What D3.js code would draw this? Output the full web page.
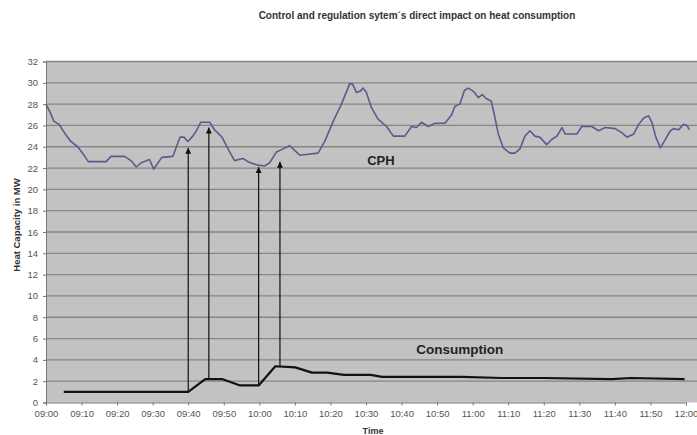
<!DOCTYPE html>
<html>
<head>
<meta charset="utf-8">
<script src="https://cdn.jsdelivr.net/npm/d3@7"></script>
<style>
  body { margin: 0; background: #fff; }
  svg { display: block; font-family: "Liberation Sans", Arial, sans-serif; }
</style>
</head>
<body>
<div id="chart"></div>
<script>
// minutes after 09:00
var cphTime = [0, 1.2, 2.2, 3.7, 5.2, 7.0, 8.9, 10.3, 11.9, 16.9, 18.3, 22.1, 23.9, 25.4, 26.8, 29.1, 30.3, 31.3, 32.6, 35.7,
  36.6, 37.7, 38.8, 39.9, 41.3, 42.3, 43.5, 46.0, 47.4, 49.5, 51.2, 53.0, 55.4, 56.8, 59.2, 61.5, 62.9, 64.8, 66.7, 68.5,
  69.5, 71.4, 76.5, 78.4, 80.8, 83.1, 85.4, 86.2, 87.3, 88.3, 89.2, 90.1, 91.5, 93.4, 95.8, 97.7, 100.9, 102.8, 104.2, 105.6,
  107.5, 109.4, 112.2, 114.1, 115.0, 116.4, 117.7, 118.8, 120.2, 121.6, 122.7, 123.9, 125.2, 126.1, 127.2, 128.6, 130.5, 131.9, 133.3, 134.7,
  136.1, 137.5, 138.9, 140.8, 142.3, 143.7, 145.1, 146.0, 149.3, 150.7, 153.5, 155.4, 157.3, 160.1, 162.0, 163.4, 165.3, 166.7, 168.1, 169.5,
  170.4, 171.5, 172.8, 174.2, 175.6, 176.5, 177.9, 179.3, 180.3, 180.9];
var cphValue = [28.0, 27.2, 26.4, 26.1, 25.3, 24.5, 24.0, 23.4, 22.6, 22.6, 23.1, 23.1, 22.7, 22.1, 22.5, 22.8, 21.9, 22.4, 23.0, 23.1,
  23.9, 24.9, 24.9, 24.5, 25.0, 25.5, 26.3, 26.3, 25.6, 24.9, 23.8, 22.7, 22.9, 22.6, 22.3, 22.2, 22.5, 23.5, 23.8, 24.1,
  23.8, 23.2, 23.4, 24.5, 26.4, 28.0, 29.9, 29.9, 29.1, 29.2, 29.5, 29.1, 27.7, 26.6, 25.9, 25.0, 25.0, 25.9, 25.8, 26.3,
  25.9, 26.2, 26.2, 27.0, 27.8, 28.0, 29.3, 29.5, 29.2, 28.6, 28.9, 28.5, 28.3, 27.0, 25.2, 23.9, 23.4, 23.4, 23.8, 25.0,
  25.5, 25.0, 24.9, 24.2, 24.7, 25.0, 25.8, 25.2, 25.2, 25.9, 25.9, 25.5, 25.8, 25.7, 25.3, 24.9, 25.2, 26.1, 26.7, 26.9,
  26.3, 24.9, 23.9, 24.7, 25.5, 25.7, 25.6, 26.1, 26.0, 25.6];

var consTime = [5, 40, 44.8, 49.5, 54.6, 59.8, 64.5, 70.1, 74.8, 79.1, 83.8, 91.3, 94.5, 117, 128.3, 140, 159, 164.6, 179.6];
var consValue = [1.0, 1.0, 2.2, 2.2, 1.6, 1.6, 3.4, 3.3, 2.8, 2.8, 2.6, 2.6, 2.4, 2.4, 2.3, 2.3, 2.2, 2.3, 2.2];

var arrowTime = [40, 45.8, 59.8, 65.8];
var arrowFrom = [1.0, 2.2, 1.6, 3.3];
var arrowTo = [23.9, 25.8, 22.1, 22.6];

var xTickLabels = ["09:00", "09:10", "09:20", "09:30", "09:40", "09:50", "10:00", "10:10", "10:20", "10:30",
  "10:40", "10:50", "11:00", "11:10", "11:20", "11:30", "11:40", "11:50", "12:00"];
var yTicks = d3.range(0, 33, 2);

var W = 697, H = 435;
var svg = d3.select("#chart").append("svg")
  .attr("width", W)
  .attr("height", H);

var x = d3.scaleLinear().domain([0, 180]).range([46, 686]);
var y = d3.scaleLinear().domain([0, 32]).range([402.5, 61.5]);

// plot area
svg.append("rect")
  .attr("x", x(0)).attr("y", y(32))
  .attr("width", 697 - x(0)).attr("height", y(0) - y(32))
  .attr("fill", "#c2c2c2");

svg.append("g").selectAll("line")
  .data(yTicks.filter(function(d){ return d > 0; }))
  .enter().append("line")
    .attr("x1", x(0)).attr("x2", 697)
    .attr("y1", function(d){ return y(d); })
    .attr("y2", function(d){ return y(d); })
    .attr("stroke", "#858585")
    .attr("stroke-width", 1.3);

// axes
var xAxis = svg.append("g")
  .attr("transform", "translate(0," + y(0) + ")")
  .call(d3.axisBottom(x)
    .tickValues(d3.range(0, 181, 10))
    .tickFormat(function(d, i){ return xTickLabels[i]; })
    .tickSizeOuter(0).tickSize(3).tickPadding(5));
xAxis.select(".domain").attr("stroke", "#777");
xAxis.selectAll(".tick line").attr("stroke", "#777");
xAxis.selectAll("text").attr("fill", "#555").style("font-size", "9.5px");

var yAxis = svg.append("g")
  .attr("transform", "translate(" + x(0) + ",0)")
  .call(d3.axisLeft(y)
    .tickValues(yTicks)
    .tickSizeOuter(0).tickSize(3).tickPadding(5));
yAxis.select(".domain").attr("stroke", "#777");
yAxis.selectAll(".tick line").attr("stroke", "#777");
yAxis.selectAll("text").attr("fill", "#555").style("font-size", "9.5px");

// lines
var line = d3.line()
  .x(function(d){ return x(d[0]); })
  .y(function(d){ return y(d[1]); });

svg.append("path")
  .datum(d3.zip(cphTime, cphValue))
  .attr("d", line)
  .attr("fill", "none")
  .attr("stroke", "#5b5b8e")
  .attr("stroke-width", 1.6)
  .attr("stroke-linejoin", "round");

svg.append("path")
  .datum(d3.zip(consTime, consValue))
  .attr("d", line)
  .attr("fill", "none")
  .attr("stroke", "#111")
  .attr("stroke-width", 2.2)
  .attr("stroke-linejoin", "round");

// arrows
svg.append("defs").append("marker")
  .attr("id", "head")
  .attr("viewBox", "0 0 10 10")
  .attr("refX", 10).attr("refY", 5)
  .attr("markerWidth", 6).attr("markerHeight", 8)
  .attr("markerUnits", "userSpaceOnUse")
  .attr("orient", "auto")
  .append("path")
    .attr("d", "M0,0L10,5L0,10Z")
    .attr("fill", "#111");

svg.append("g").selectAll("line")
  .data(arrowTime)
  .enter().append("line")
    .attr("x1", function(d){ return x(d); })
    .attr("x2", function(d){ return x(d); })
    .attr("y1", function(d, i){ return y(arrowFrom[i]); })
    .attr("y2", function(d, i){ return y(arrowTo[i]); })
    .attr("stroke", "#111")
    .attr("stroke-width", 1.2)
    .attr("marker-end", "url(#head)");

// labels
svg.append("text")
  .attr("x", 417).attr("y", 19)
  .attr("text-anchor", "middle")
  .style("font-size", "10px").style("font-weight", "bold")
  .attr("fill", "#333")
  .text("Control and regulation sytem\u00b4s direct  impact on heat consumption");

svg.append("text")
  .attr("x", x(94.2)).attr("y", y(22.8) + 5)
  .attr("text-anchor", "middle")
  .style("font-size", "13px").style("font-weight", "bold")
  .attr("fill", "#222")
  .text("CPH");

svg.append("text")
  .attr("x", x(116.4)).attr("y", y(5.0) + 5)
  .attr("text-anchor", "middle")
  .style("font-size", "13.5px").style("font-weight", "bold")
  .attr("fill", "#222")
  .text("Consumption");

svg.append("text")
  .attr("x", 373).attr("y", 434)
  .attr("text-anchor", "middle")
  .style("font-size", "9px").style("font-weight", "bold")
  .attr("fill", "#333")
  .text("Time");

svg.append("text")
  .attr("transform", "translate(20," + 225 + ") rotate(-90)")
  .attr("text-anchor", "middle")
  .style("font-size", "9.5px").style("font-weight", "bold")
  .attr("fill", "#333")
  .text("Heat Capacity in MW");
</script>
</body>
</html>
